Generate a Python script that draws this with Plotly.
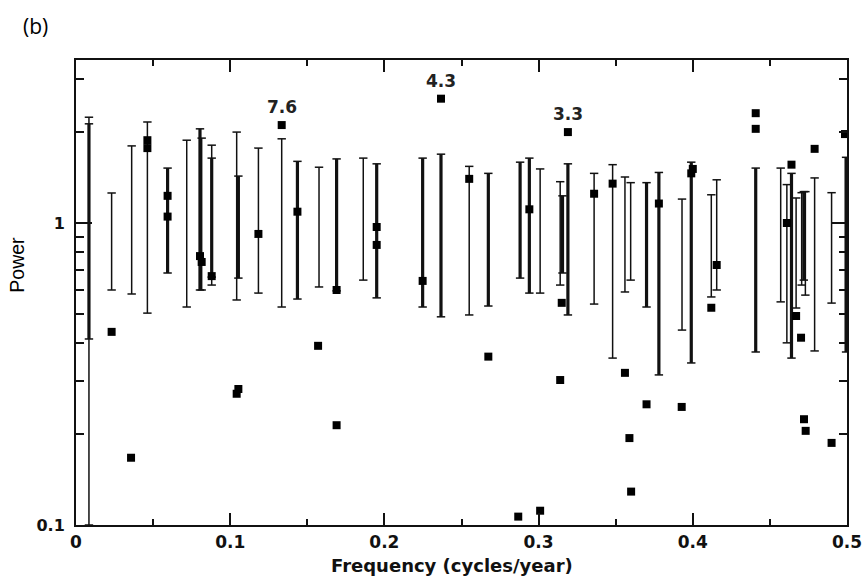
import math
import plotly.graph_objects as go

# ---- data ----
marker_x = [0.0231, 0.0357, 0.0463, 0.0463, 0.0594, 0.0594, 0.0804, 0.0815, 0.0880,
            0.1042, 0.1053, 0.1183, 0.1334, 0.1436, 0.1570, 0.1690, 0.1690, 0.1950,
            0.1950, 0.2248, 0.2367, 0.2550, 0.2674, 0.2868, 0.2940, 0.3010, 0.3150,
            0.3140, 0.3190, 0.3360, 0.3480, 0.3560, 0.3589, 0.3600, 0.3700, 0.3780,
            0.3928, 0.3990, 0.4000, 0.4120, 0.4155, 0.4408, 0.4408, 0.4610, 0.4640,
            0.4670, 0.4702, 0.4721, 0.4732, 0.4790, 0.4900, 0.4987]
marker_y = [0.436, 0.167, 1.88, 1.77, 1.23, 1.05, 0.777, 0.743, 0.667,
            0.272, 0.282, 0.92, 2.11, 1.09, 0.392, 0.60, 0.214, 0.97,
            0.846, 0.643, 2.58, 1.40, 0.361, 0.1066, 1.11, 0.1115, 0.544,
            0.302, 2.00, 1.25, 1.35, 0.319, 0.194, 0.129, 0.251, 1.16,
            0.246, 1.46, 1.51, 0.524, 0.726, 2.31, 2.05, 1.00, 1.56,
            0.492, 0.417, 0.224, 0.205, 1.76, 0.187, 1.97]

thin_bar_x = [0.0084, 0.0231, 0.0361, 0.0463, 0.0718, 0.0815, 0.0880, 0.1042, 0.1183,
              0.1334, 0.1576, 0.1863, 0.2550, 0.3010, 0.3140, 0.3360, 0.3480, 0.3560,
              0.3597, 0.3930, 0.4120, 0.4155, 0.4570, 0.4610, 0.4670, 0.4706, 0.4730,
              0.4790, 0.4900]
thin_bar_lo = [0.100, 0.600, 0.582, 0.503, 0.527, 0.600, 0.623, 0.556, 0.586,
               0.527, 0.614, 0.647, 0.496, 0.586, 0.623, 0.539, 0.357, 0.591,
               0.647, 0.442, 0.569, 0.600, 0.548, 0.401, 0.523, 0.623, 0.577,
               0.377, 0.543]
thin_bar_hi = [2.24, 1.257, 1.80, 2.16, 1.88, 1.91, 1.81, 2.00, 1.77,
               1.90, 1.53, 1.64, 1.54, 1.51, 1.37, 1.46, 1.56, 1.42,
               1.36, 1.20, 1.24, 1.39, 1.52, 1.34, 1.21, 1.26, 1.27,
               1.41, 1.26]

thick_bar_x = [0.0084, 0.0594, 0.0804, 0.0880, 0.1053, 0.1436, 0.1690, 0.1950, 0.2248,
               0.2367, 0.2674, 0.2880, 0.2940, 0.3155, 0.3190, 0.3700, 0.3780, 0.3990,
               0.4408, 0.4640, 0.4720, 0.4994]
thick_bar_lo = [0.413, 0.683, 0.600, 0.662, 0.657, 0.560, 0.596, 0.565, 0.527,
                0.489, 0.531, 0.657, 0.586, 0.683, 0.496, 0.527, 0.314, 0.344,
                0.374, 0.357, 0.647, 0.374]
thick_bar_hi = [2.13, 1.52, 2.05, 1.64, 1.43, 1.60, 1.63, 1.57, 1.64,
                1.69, 1.46, 1.59, 1.64, 1.23, 1.57, 1.36, 1.47, 1.59,
                1.52, 1.46, 1.27, 1.65]

peak_x = [0.1334, 0.2367, 0.3190]
peak_y = [2.11, 2.58, 2.00]
peak_labels = ["7.6", "4.3", "3.3"]

x_ticks = [0, 0.1, 0.2, 0.3, 0.4, 0.5]
x_ticklabels = ["0", "0.1", "0.2", "0.3", "0.4", "0.5"]
y_ticks = [0.1, 1]
y_ticklabels = ["0.1", "1"]
y_minor = [0.2, 0.3, 0.4, 0.5, 0.6, 0.7, 0.8, 0.9, 2, 3]

# ---- build ----
def segs(xs, lo, hi):
    X, Y = [], []
    for x, a, b in zip(xs, lo, hi):
        X += [x, x, None]
        Y += [a, b, None]
    return X, Y

fig = go.Figure()
INK = "#111111"

for xs, lo, hi, w in [(thin_bar_x, thin_bar_lo, thin_bar_hi, 1.5),
                      (thick_bar_x, thick_bar_lo, thick_bar_hi, 3.2)]:
    X, Y = segs(xs, lo, hi)
    fig.add_trace(go.Scatter(x=X, y=Y, mode="lines", line=dict(color=INK, width=w),
                             hoverinfo="skip", showlegend=False))
    fig.add_trace(go.Scatter(x=list(xs) + list(xs), y=list(lo) + list(hi), mode="markers",
                             marker=dict(symbol="line-ew", size=6,
                                         line=dict(color=INK, width=1.5)),
                             hoverinfo="skip", showlegend=False))

fig.add_trace(go.Scatter(x=marker_x, y=marker_y, mode="markers",
                         marker=dict(symbol="square", size=8, color="black"),
                         showlegend=False))

for px_, py_, t in zip(peak_x, peak_y, peak_labels):
    fig.add_annotation(x=px_, y=math.log10(py_), xref="x", yref="y", text=t,
                       showarrow=False, yshift=18,
                       font=dict(family="DejaVu Sans", size=17, color="#222", weight="bold"))

# panel label and axis titles
fig.add_annotation(x=-0.0717, y=1.073, xref="x domain", yref="y domain", text="(b)",
                   showarrow=False, xanchor="left", yanchor="middle",
                   font=dict(family="Open Sans", size=21, color="black"))
fig.add_annotation(x=0.488, y=-0.087, xref="x domain", yref="y domain",
                   text="Frequency (cycles/year)", showarrow=False,
                   xanchor="center", yanchor="middle",
                   font=dict(family="DejaVu Sans", size=18, weight="bold", color="#111"))
fig.add_annotation(x=-0.077, y=0.559, xref="x domain", yref="y domain",
                   text="Power", showarrow=False, textangle=-90,
                   xanchor="center", yanchor="middle",
                   font=dict(family="Liberation Sans", size=19.5, color="black"))

fig.update_layout(
    width=863, height=582,
    margin=dict(l=76, r=16, t=60, b=57, autoexpand=False),
    paper_bgcolor="white", plot_bgcolor="white",
    font=dict(family="DejaVu Sans", color="black"),
)
fig.update_xaxes(
    range=[0, 0.5], tickvals=x_ticks, ticktext=x_ticklabels, automargin=False,
    ticks="inside", ticklen=12, tickwidth=1.5, tickcolor=INK, ticklabelstandoff=1,
    minor=dict(dtick=0.05, tick0=0, ticks="inside", ticklen=6, tickwidth=1.5, tickcolor=INK,
               showgrid=False),
    showline=True, linewidth=2, linecolor=INK, mirror="ticks",
    showgrid=False, zeroline=False,
    tickfont=dict(family="DejaVu Sans", size=17, weight="bold", color="#111"),
)
fig.update_yaxes(
    type="log", range=[-1, 0.5397], tickvals=y_ticks, ticktext=y_ticklabels, automargin=False,
    ticks="inside", ticklen=16, tickwidth=1.5, tickcolor=INK, ticklabelstandoff=6,
    minor=dict(tickvals=y_minor, ticks="inside", ticklen=8, tickwidth=1.5, tickcolor=INK,
               showgrid=False),
    showline=True, linewidth=2, linecolor=INK, mirror="ticks",
    showgrid=False, zeroline=False,
    tickfont=dict(family="DejaVu Sans", size=16, weight="bold", color="#111"),
)

fig.write_html("out.html", config={"displayModeBar": False},
               post_script="document.body.style.margin='0';document.body.style.overflow='hidden';")
